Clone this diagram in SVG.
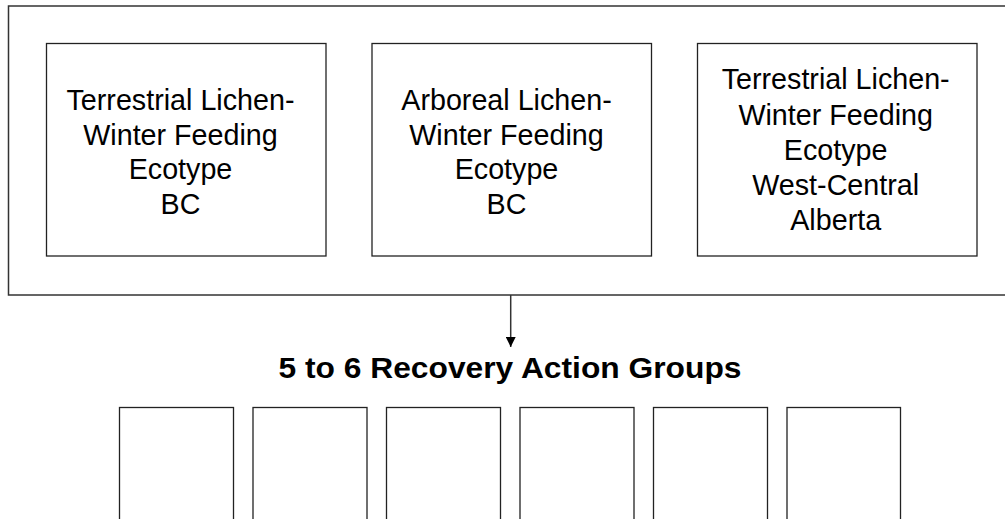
<svg xmlns="http://www.w3.org/2000/svg" width="1005" height="519" viewBox="0 0 1005 519">
<defs>
<style>
.box{fill:#fff;stroke:#222;stroke-width:1.3}
.outer{fill:#fff;stroke:#333;stroke-width:1.5}
.t{font-family:"Liberation Sans",Arial,sans-serif;font-size:28.7px;fill:#000;text-anchor:middle}
.title{font-family:"Liberation Sans",Arial,sans-serif;font-size:29px;font-weight:bold;fill:#000;text-anchor:middle}
.conn{stroke:#333;stroke-width:1.5;fill:none}
</style>
<marker id="arr" viewBox="0 0 10 10" refX="10" refY="5" markerWidth="10" markerHeight="10" markerUnits="userSpaceOnUse" orient="auto">
<path d="M0,0 L10,5 L0,10 Z" fill="#000"/>
</marker>
</defs>
<rect width="1005" height="519" fill="#fff"/>
<g id="ecotypes">
<rect class="outer" x="8.5" y="6" width="1010" height="289"/>
</g>
<g id="box1">
<rect class="box" x="46.5" y="43.5" width="279.5" height="212.5"/>
<text class="t" x="180.5" y="110">Terrestrial Lichen-</text>
<text class="t" x="180.5" y="144.5">Winter Feeding</text>
<text class="t" x="180.5" y="179">Ecotype</text>
<text class="t" x="180.5" y="213.5">BC</text>
</g>
<g id="box2">
<rect class="box" x="372" y="43.5" width="279.5" height="212.5"/>
<text class="t" x="506.5" y="110">Arboreal Lichen-</text>
<text class="t" x="506.5" y="144.5">Winter Feeding</text>
<text class="t" x="506.5" y="179">Ecotype</text>
<text class="t" x="506.5" y="213.5">BC</text>
</g>
<g id="box3">
<rect class="box" x="697.5" y="43.5" width="279.5" height="212.5"/>
<text class="t" x="835.7" y="89.3">Terrestrial Lichen-</text>
<text class="t" x="835.7" y="124.5">Winter Feeding</text>
<text class="t" x="835.7" y="159.7">Ecotype</text>
<text class="t" x="835.7" y="194.9">West-Central</text>
<text class="t" x="835.7" y="230">Alberta</text>
</g>
<g id="connectors">
<line class="conn" x1="510.7" y1="295" x2="510.7" y2="347" marker-end="url(#arr)"/>
</g>
<g id="title">
<text class="title" x="510" y="378" textLength="463" lengthAdjust="spacingAndGlyphs">5 to 6 Recovery Action Groups</text>
</g>
<g id="group1"><rect class="box" x="119.5" y="407.5" width="114" height="130"/></g>
<g id="group2"><rect class="box" x="253" y="407.5" width="114" height="130"/></g>
<g id="group3"><rect class="box" x="386.5" y="407.5" width="114" height="130"/></g>
<g id="group4"><rect class="box" x="520" y="407.5" width="114" height="130"/></g>
<g id="group5"><rect class="box" x="653.5" y="407.5" width="114" height="130"/></g>
<g id="group6"><rect class="box" x="787" y="407.5" width="113.5" height="130"/></g>
</svg>
